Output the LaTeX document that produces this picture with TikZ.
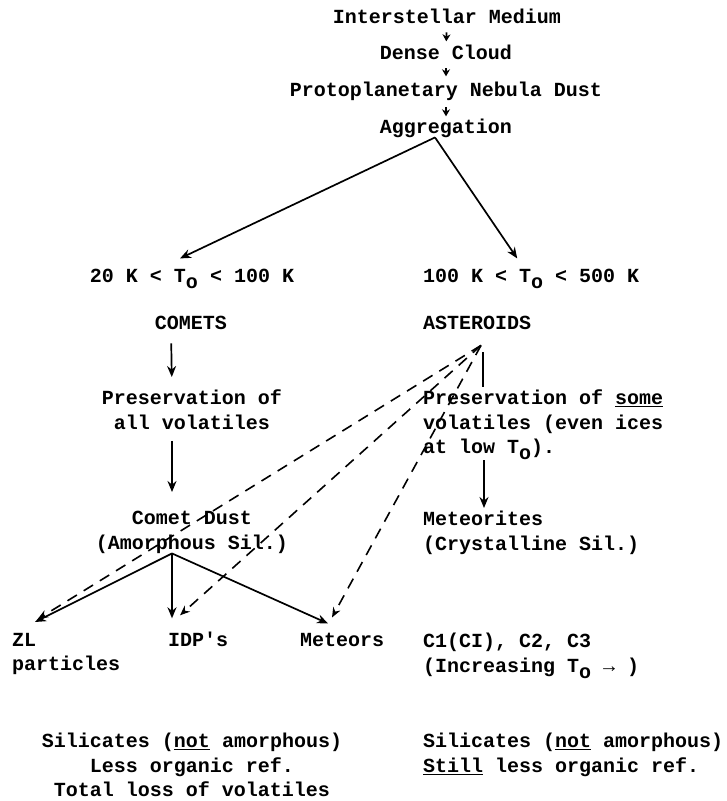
\documentclass[tikz,border=0pt]{standalone}
\usepackage{fontspec}
\setmainfont{Liberation Mono}
\usetikzlibrary{arrows.meta,positioning,calc}
\newcommand{\Tsubo}{T\raisebox{-6pt}{o}}

\begin{document}
\begin{tikzpicture}[x = 1pt, y = -1pt,
  every node/.style = {inner sep = 0pt, font = \fontsize{20}{24.5}\selectfont\bfseries},
  flow/.style = {-{Stealth[length = 11pt, width = 9pt]}, line width = 1.7pt},
  chainarr/.style = {-{Stealth[length = 7pt, width = 8pt]}, line width = 1.6pt},
  dashlink/.style = {dash pattern = on 11pt off 8pt, -{Stealth[length = 10pt, width = 8pt]}, line width = 1.6pt}]
  \useasboundingbox (0,0) rectangle (727,801);
  \node[anchor = base] (ism) at (447,23) {Interstellar Medium};
  \node[anchor = base] (dc) at (446,59) {Dense Cloud};
  \node[anchor = base] (pnd) at (446,96) {Protoplanetary Nebula Dust};
  \node[anchor = base] (agg) at (446,133) {Aggregation};
  \node[anchor = base] (lowt) at (192,282) {20 K < \Tsubo{} < 100 K};
  \node[anchor = base west] (hight) at (423,282) {100 K < \Tsubo{} < 500 K};
  \node[anchor = base] (comets) at (191,329) {COMETS};
  \node[anchor = base west] (asteroids) at (423,329) {ASTEROIDS};
  \node[anchor = north, align = center] (cpres) at (192,390) {Preservation of\\all volatiles};
  \node[anchor = north west, align = left] (apres) at (423,390) {Preservation of \underline{some}\\volatiles (even ices\\at low \Tsubo).};
  \node[anchor = north, align = center] (cdust) at (192,511) {Comet Dust\\(Amorphous Sil.)};
  \node[anchor = north west, align = left] (meteorites) at (423,511) {Meteorites\\(Crystalline Sil.)};
  \node[anchor = north west, align = left] (zl) at (12,633) {ZL\\particles};
  \node[anchor = base west] (idp) at (168,646) {IDP\textquotesingle s};
  \node[anchor = base west] (meteors) at (300,646) {Meteors};
  \node[anchor = north west, align = left] (cclass) at (423,633) {C1(CI), C2, C3\\(Increasing \Tsubo{} → )};
  \node[anchor = north, align = center] (csum) at (192,733) {Silicates (\underline{not} amorphous)\\Less organic ref.\\Total loss of volatiles};
  \node[anchor = north west, align = left] (asum) at (423,733) {Silicates (\underline{not} amorphous)\\\underline{Still} less organic ref.};
  \coordinate (cdfoot) at ([xshift = -20pt]cdust.south);
  \coordinate (astfoot) at ([shift = {(58pt,-16pt)}]asteroids.south west);
  \draw[chainarr, shorten <= 9pt, shorten >= 3pt] (ism) -- (dc);
  \draw[chainarr, shorten <= 9pt, shorten >= 5pt] (dc) -- (pnd);
  \draw[chainarr, shorten <= 7pt, shorten >= 2pt] (pnd) -- (agg);
  \draw[flow] ([xshift = -11pt]agg.south) -- ([shift = {(-12pt,10pt)}]lowt.north);
  \draw[flow] ([xshift = -11pt]agg.south) -- ([shift = {(-14pt,10pt)}]hight.north);
  \draw[flow, shorten <= 14pt, shorten >= 13pt] ([xshift = -20pt]comets.south) -- ([xshift = -20pt]cpres.north);
  \draw[flow, shorten <= 11pt, shorten >= 19pt] ([xshift = -20pt]cpres.south) -- ([xshift = -20pt]cdust.north);
  \draw[line width = 1.6pt, shorten <= 23pt, shorten >= 3pt] ([xshift = 60pt]asteroids.south west) -- ([xshift = 60pt]apres.north west);
  \draw[flow, shorten >= 3pt] ([xshift = 61pt]apres.south west) -- ([xshift = 61pt]meteorites.north west);
  \draw[flow] (cdfoot) -- ([shift = {(23pt,11pt)}]zl.north west);
  \draw[flow] (cdfoot) -- ([shift = {(4pt,13pt)}]idp.north west);
  \draw[flow] (cdfoot) -- ([shift = {(28pt,9pt)}]meteors.north west);
  \draw[dashlink] (astfoot) -- ([shift = {(26pt,14pt)}]zl.north west);
  \draw[dashlink] (astfoot) -- ([shift = {(12pt,16pt)}]idp.north west);
  \draw[dashlink] (astfoot) -- ([shift = {(32pt,15pt)}]meteors.north west);
\end{tikzpicture}
\end{document}
